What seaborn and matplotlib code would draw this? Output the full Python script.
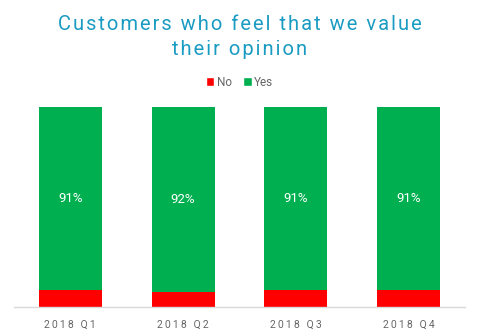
import matplotlib
matplotlib.use("Agg")
import matplotlib.pyplot as plt
import seaborn as sns
import pandas as pd

categories = ["2018 Q1", "2018 Q2", "2018 Q3", "2018 Q4"]
no_values = [8.7, 7.6, 8.7, 8.4]
yes_values = [91.3, 92.4, 91.3, 91.6]
title_lines = ["Customers who feel that we value", "their opinion"]

sns.set_style("white")
plt.rcParams['font.family'] = ['Roboto', 'DejaVu Sans']

df = pd.DataFrame({"quarter": categories, "No": no_values, "Yes": yes_values})
df["total"] = df["No"] + df["Yes"]

fig = plt.figure(figsize=(4.79, 3.36), dpi=100)
ax = fig.add_axes([14/479, 1-307/336, 451/479, 200/336])

GREEN = "#00b050"
RED = "#ff0000"
sns.barplot(data=df, x="quarter", y="total", color=GREEN, width=0.56, ax=ax, saturation=1, linewidth=0)
sns.barplot(data=df, x="quarter", y="No", color=RED, width=0.56, ax=ax, saturation=1, linewidth=0)

for i, (n, y) in enumerate(zip(no_values, yes_values)):
    ax.text(i, n + y/2, f"{int(y)}%", ha="center", va="center", color="white", fontsize=9.5)

ax.set_ylim(0, 100)
ax.set_xlim(-0.5, 3.5)
ax.set_xlabel("")
ax.set_ylabel("")
ax.set_yticks([])
for s in ["top", "right", "left"]:
    ax.spines[s].set_visible(False)
ax.spines["bottom"].set_color("#d9d9d9")
ax.spines["bottom"].set_linewidth(1)
ax.tick_params(axis="x", length=0, pad=9, labelsize=7.5, labelcolor="#666666")
ax.set_xticks(range(len(categories)))
ax.set_xticklabels(["\u2009".join(c) for c in categories])

spaced = "\n".join("\u200a".join(line) for line in title_lines)
fig.text(0.5, 1-37/336, spaced, ha="center", va="center", fontsize=14.5, color="#1a9bc2", linespacing=1.45,
         family=['Roboto', 'DejaVu Sans'])

from matplotlib.patches import Patch
handles = [Patch(facecolor=RED, label="No"), Patch(facecolor=GREEN, label="Yes")]
fig.legend(handles=handles, loc="center", bbox_to_anchor=(0.5, 1-82/336), ncol=2, frameon=False,
           fontsize=8.5, labelcolor="#666666", handlelength=0.7, handleheight=0.7, handletextpad=0.2, columnspacing=1.0)

fig.savefig("out.png", dpi=100)
